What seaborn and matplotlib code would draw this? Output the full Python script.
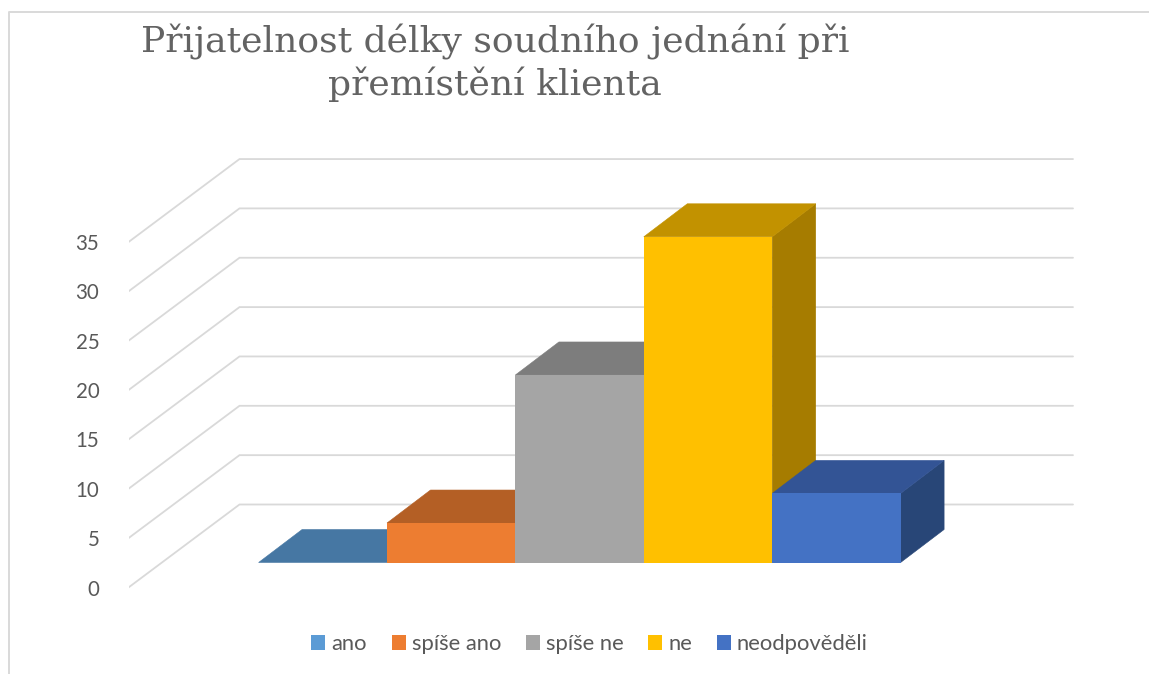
import numpy as np
import pandas as pd
import matplotlib
matplotlib.use('Agg')
import matplotlib.pyplot as plt
import seaborn as sns
from matplotlib.lines import Line2D
from matplotlib.patches import Polygon

categories = ['ano', 'spíše ano', 'spíše ne', 'ne', 'neodpověděli']
counts = [0, 4, 19, 33, 7]
axis_ticks = [0, 5, 10, 15, 20, 25, 30, 35]
title = 'Přijatelnost délky soudního jednání při\npřemístění klienta'

front_colors = ['#5B9BD5', '#ED7D31', '#A5A5A5', '#FFC000', '#4472C4']
top_colors = ['#4677A3', '#B45F25', '#7D7D7D', '#C29200', '#335495']
side_colors = ['#3A6489', '#9A4F1E', '#686868', '#A67C00', '#284677']
text_color = '#595959'
grid_color = '#D9D9D9'

W, H = 1149, 674
px_cat = 128.4   # pixels per category
px_val = 9.87    # pixels per unit
center0 = 322.8
base_y = 562.5
left = 128.5

sns.set_theme(style='white')
plt.rcParams['font.family'] = ['Lato', 'DejaVu Sans']

fig = plt.figure(figsize=(W / 100, H / 100), dpi=100)
ax = fig.add_axes([left / W, 0, 1 - left / W, 1])

df = pd.DataFrame({'odpoved': categories, 'pocet': counts})
sns.barplot(data=df, x='odpoved', y='pocet', hue='odpoved', hue_order=categories,
            palette=front_colors, width=1, dodge=False, legend=True, saturation=1,
            linewidth=0, ax=ax)

ax.set_xlim((left - center0) / px_cat, (W - center0) / px_cat)
ax.set_ylim((base_y - H) / px_val, base_y / px_val)
ax.set_xlabel('')
ax.set_ylabel('')
ax.set_xticks([])
sns.despine(ax=ax, left=True, bottom=True)

# depth of the bars and of the walls, in data units
bar_dx, bar_dy = 43.5 / px_cat, 33 / px_val
wall_drop = 25 / px_val
wall_rise = 58 / px_val
wall_back = ax.get_xlim()[0] + 111 / px_cat
wall_right = (1073 - center0) / px_cat

for v in axis_ticks:
    ax.plot([ax.get_xlim()[0], wall_back, wall_right],
            [v - wall_drop, v + wall_rise, v + wall_rise],
            color=grid_color, lw=1.3, zorder=1, solid_joinstyle='miter')

ax.set_yticks([v - wall_drop for v in axis_ticks], [str(v) for v in axis_ticks])
ax.tick_params(axis='y', left=False, pad=15, labelsize=14.8, labelcolor=text_color)

for i, container in enumerate(ax.containers):
    bar = container[0]
    x0, x1 = bar.get_x(), bar.get_x() + bar.get_width()
    h = bar.get_height()
    top = [(x0, h), (x1, h), (x1 + bar_dx, h + bar_dy), (x0 + bar_dx, h + bar_dy)]
    side = [(x1, 0), (x1 + bar_dx, bar_dy), (x1 + bar_dx, h + bar_dy), (x1, h)]
    ax.add_patch(Polygon(side, fc=side_colors[i], ec=side_colors[i], lw=0.4, zorder=2 + 2 * i))
    ax.add_patch(Polygon(top, fc=top_colors[i], ec=top_colors[i], lw=0.4, zorder=2 + 2 * i))
    bar.set_zorder(3 + 2 * i)

fig.suptitle(title, x=495 / W, y=1 - 24 / H, va='top', ha='center', fontsize=26,
             family='DejaVu Serif', color='#636363', linespacing=1.24)

# chart frame
fig.add_artist(Line2D([9 / W, 9 / W, 1], [0, 1 - 12 / H, 1 - 12 / H], color=grid_color, lw=1.4))

ax.legend(loc='center', bbox_to_anchor=(589.5 / W, 1 - 644 / H), bbox_transform=fig.transFigure,
          ncol=5, frameon=False, fontsize=15.8, handlelength=0.64, handleheight=0.64,
          handletextpad=0.27, columnspacing=1.13, borderpad=0, labelcolor=text_color)

fig.savefig('out.png', dpi=100)
